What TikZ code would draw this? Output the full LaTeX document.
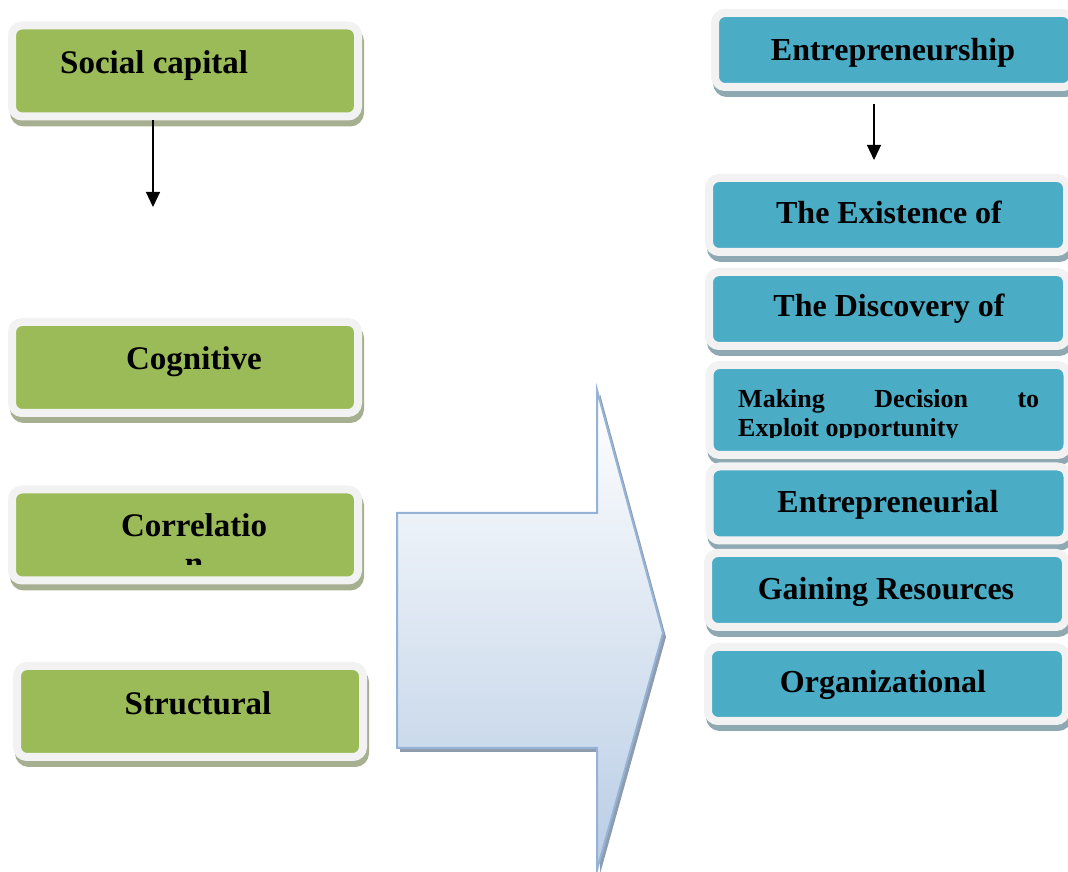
\documentclass[tikz,border=0pt]{standalone}
\usepackage{fontspec}
\setmainfont{Liberation Serif}
\usetikzlibrary{calc, arrows.meta}
\definecolor{boxgreen}{HTML}{9BBB59}
\definecolor{boxblue}{HTML}{4BACC6}
\definecolor{boxrim}{HTML}{F2F2F2}
\definecolor{greenshade}{HTML}{A6AF90}
\definecolor{blueshade}{HTML}{8FA9B3}
\definecolor{arrowedge}{HTML}{95B3D7}
\definecolor{arrowbottom}{HTML}{B9CDE5}
\definecolor{arrowshade}{HTML}{8E9CAD}

\begin{document}
\begin{tikzpicture}[x=1pt, y=1pt,
  panel/.style={draw=boxrim, line width=8pt, rounded corners=10pt, inner sep=0pt,
    preaction={draw=#1, fill=#1, transform canvas={xshift=2pt, yshift=-6pt}}},
  greenbox/.style={panel=greenshade, fill=boxgreen, minimum width=346pt, minimum height=91pt},
  bluebox/.style={panel=blueshade, fill=boxblue, minimum width=358pt, minimum height=74pt},
  boxtext/.style={font=\fontsize{32}{38}\selectfont\bfseries, inner sep=0pt, align=center, anchor=base},
  greentext/.style={boxtext, font=\fontsize{33}{38}\selectfont\bfseries},
  flow/.style={line width=1.3pt, -{Triangle[width=14pt, length=15pt]}}]
\useasboundingbox (0,0) rectangle (1068,872);
% Social capital column
\node[greenbox] (social) at (185,801) {};
\node[greentext, anchor=base west] (socialtext) at (60,798) {Social capital};
\coordinate (socialdown) at (153,665);
\draw[flow] (social.south -| socialdown) -- (socialdown);
\node[greenbox] (cognitive) at (185,504.5) {};
\node[greentext] (cognitivetext) at (194,502) {Cognitive};
\node[greenbox] (correlation) at (185,337) {};
% Text cut off at the bottom of the box
\begin{scope}
\clip (correlation.west |- 0,307) rectangle (correlation.north east);
\node[greentext] (correlationtext) at (194,297) {Correlatio\\n};
\end{scope}
\node[greenbox] (structural) at (190,160.5) {};
\node[greentext] (structuraltext) at (198,157) {Structural};
% Big arrow in the middle
\coordinate (shaftbottom) at (397,124);
\coordinate (shafttop) at (597,359);
\coordinate (headtop) at (597,482);
\coordinate (headtip) at (663,239);
\coordinate (headbottom) at (597,2);
\fill[arrowshade, transform canvas={xshift=3pt, yshift=-4pt}] (shaftbottom) |- (shafttop) -- (headtop) -- (headtip) -- (headbottom) |- cycle;
\draw[arrowedge, line width=2pt, top color=white, bottom color=arrowbottom] (shaftbottom) |- (shafttop) -- (headtop) -- (headtip) -- (headbottom) |- cycle;
% Entrepreneurship column
\node[bluebox] (entre) at (894,822) {};
\node[boxtext] (entretext) at (893,811) {Entrepreneurship};
\coordinate (entredown) at (874,712);
\draw[flow] ($(entre.south -| entredown)+(0,-13)$) -- (entredown);
\node[bluebox] (existence) at (888,657) {};
\node[boxtext] (existencetext) at (889,648) {The Existence of};
\node[bluebox] (discovery) at (888,563) {};
\node[boxtext] (discoverytext) at (889,555) {The Discovery of};
\node[bluebox, minimum height=90pt] (decision) at (888.5,462) {};
% Text cut off at the bottom of the box
\begin{scope}
\clip (decision.west |- 0,434) rectangle (decision.north east);
\node[font=\fontsize{26}{29}\selectfont\bfseries, inner sep=0pt, align=left, anchor=base west] (decisiontext) at (738,435) {\makebox[301pt][s]{Making Decision to}\\Exploit opportunity};
\end{scope}
\node[bluebox] (entrepreneurial) at (888.5,368.5) {};
\node[boxtext] (entrepreneurialtext) at (888,359) {Entrepreneurial};
\node[bluebox] (resources) at (887,282) {};
\node[boxtext] (resourcestext) at (886,272) {Gaining Resources};
\node[bluebox] (organizational) at (887,188) {};
\node[boxtext] (organizationaltext) at (883,179) {Organizational};
\end{tikzpicture}
\end{document}
